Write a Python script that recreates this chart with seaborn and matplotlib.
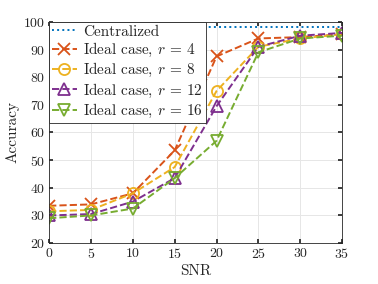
import matplotlib
matplotlib.use("Agg")
import matplotlib.pyplot as plt
import seaborn as sns
import pandas as pd

snr = [0, 5, 10, 15, 20, 25, 30, 35]
centralized = [98, 98, 98, 98, 98, 98, 98, 98]
r4 = [33.5, 34, 38, 53.5, 87.5, 94, 94.5, 95.5]
r8 = [31.5, 32, 38, 47.5, 75, 91, 94, 95.5]
r12 = [30, 30.5, 35, 43.5, 69.5, 91, 95, 96]
r16 = [29, 30, 32.5, 43.5, 57, 89, 94, 95]

sns.set_theme(style="whitegrid")
plt.rcParams['font.family'] = 'serif'
plt.rcParams['font.serif'] = ['cmr10']
plt.rcParams['mathtext.fontset'] = 'cm'
plt.rcParams['axes.formatter.use_mathtext'] = True

fig = plt.figure(figsize=(3.78, 2.84), dpi=100)
ax = fig.add_axes([0.13, 0.144, 0.775, 0.779])

series = [
    ("Centralized", centralized, "#0072BD", None, ":"),
    (r"Ideal case, $r$ = 4", r4, "#D95319", "x", "--"),
    (r"Ideal case, $r$ = 8", r8, "#EDB120", "o", "--"),
    (r"Ideal case, $r$ = 12", r12, "#7E2F8E", "^", "--"),
    (r"Ideal case, $r$ = 16", r16, "#77AC30", "v", "--"),
]
for label, vals, color, marker, ls in series:
    df = pd.DataFrame({"SNR": snr, "Accuracy": vals})
    kw = dict(markersize=8, markerfacecolor="none", markeredgecolor=color, markeredgewidth=1.3) if marker else {}
    sns.lineplot(data=df, x="SNR", y="Accuracy", ax=ax, color=color, linestyle=ls,
                 marker=marker, linewidth=1.4, label=label, **kw)

ax.set_xlim(0, 35)
ax.set_ylim(20, 100)
ax.set_xticks(range(0, 36, 5))
ax.set_yticks(range(20, 101, 10))
ax.set_facecolor("white")
ax.grid(True, color="#e6e6e6", linewidth=0.7)
for s in ax.spines.values():
    s.set_color("#262626")
    s.set_linewidth(0.6)
ax.tick_params(axis="both", direction="in", length=3, labelsize=10, pad=3,
               colors="#262626", top=True, right=True, bottom=True, left=True)
ax.set_xlabel("SNR", fontsize=11, labelpad=2)
ax.set_ylabel("Accuracy", fontsize=11, labelpad=2)

leg = ax.legend(loc="upper left", fontsize=11, frameon=True, fancybox=False,
                borderaxespad=0.0, handlelength=1.6, handletextpad=0.4,
                labelspacing=0.15, borderpad=0.2)
leg.get_frame().set_edgecolor("#262626")
leg.get_frame().set_linewidth(0.6)
leg.get_frame().set_alpha(1)

fig.savefig("out.png", dpi=100)
